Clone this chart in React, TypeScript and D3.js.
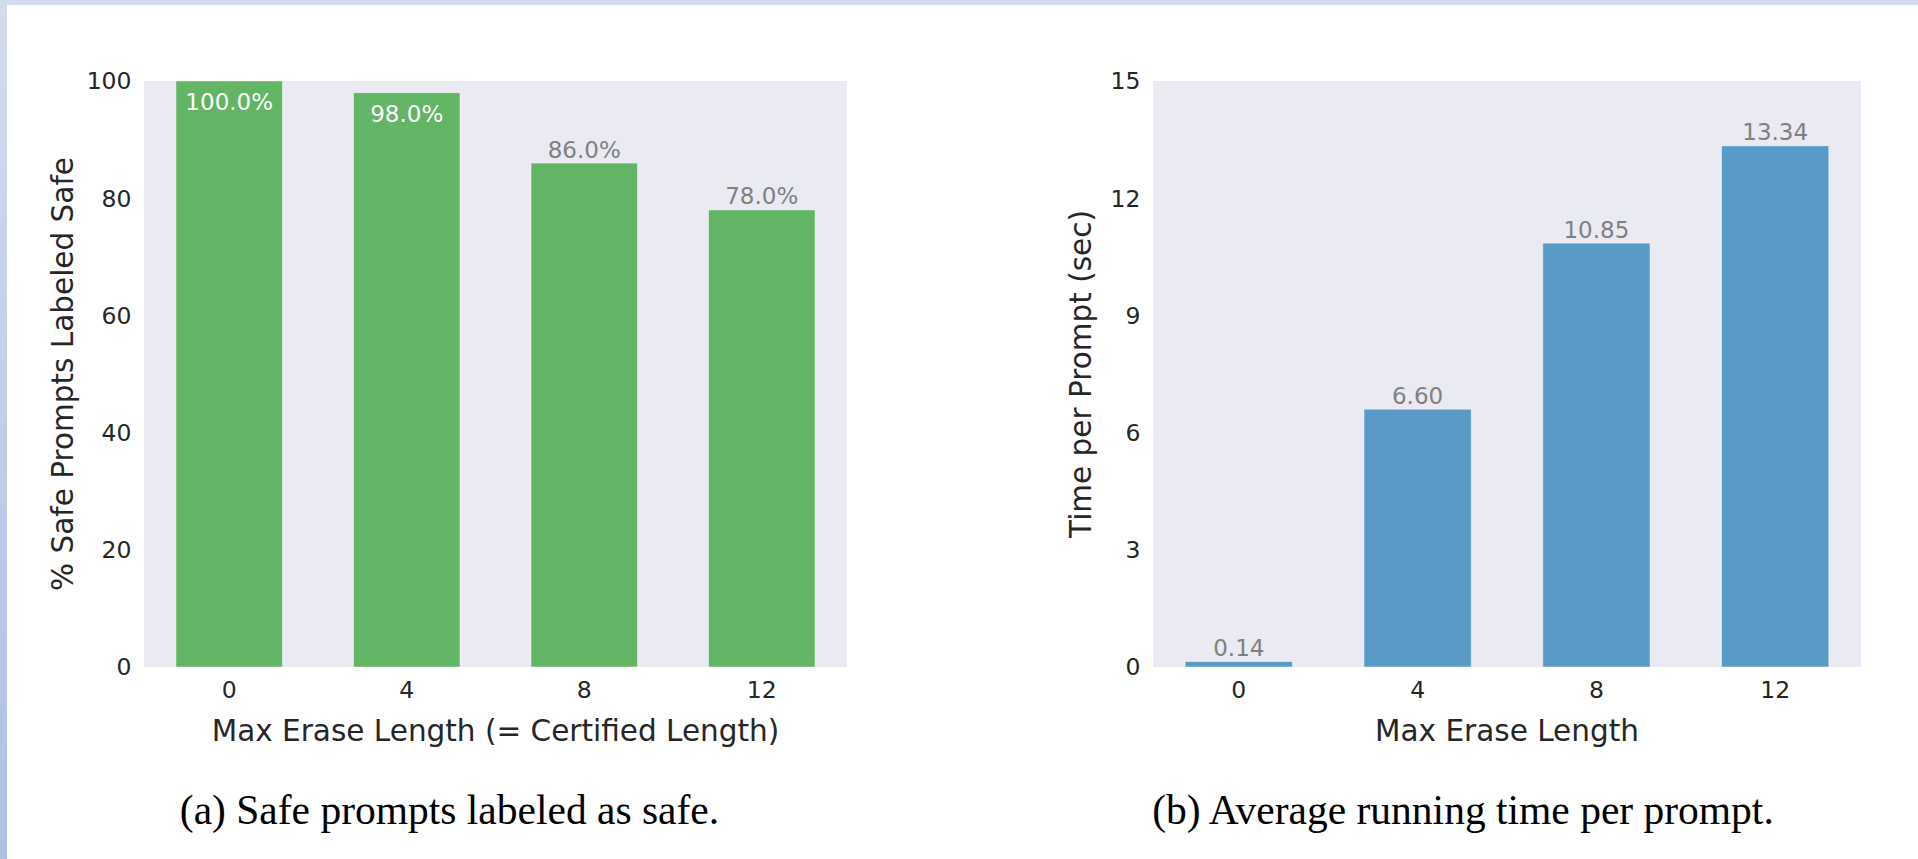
import React from "react";
import * as d3 from "d3";

// Max erase length settings (shared x categories)
const eraseLengths: number[] = [0, 4, 8, 12];

// (a) share of safe prompts labeled safe, in percent
const safeLabeledPct: number[] = [100.0, 98.0, 86.0, 78.0];
const safeTicks: number[] = [0, 20, 40, 60, 80, 100];

// (b) average running time per prompt, in seconds
const timePerPrompt: number[] = [0.14, 6.6, 10.85, 13.34];
const timeTicks: number[] = [0, 3, 6, 9, 12, 15];

const W = 1918;
const H = 859;
const PLOT_TOP = 81;
const PLOT_BOTTOM = 667;
const TICK_FONT = 23.5;
const LABEL_FONT = 29.5;
const SANS = "'DejaVu Sans', sans-serif";
const SERIF = "'Liberation Serif', 'Times New Roman', serif";
const INK = "#262626";

type PanelProps = {
  left: number;
  right: number;
  values: number[];
  yMax: number;
  ticks: number[];
  color: string;
  fmt: (v: number) => string;
  insideAbove: number | null;
  xLabel: string;
  yLabel: string;
  yLabelX: number;
  caption: string;
  captionX: number;
};

function Panel(p: PanelProps) {
  const x = d3.scaleLinear().domain([-0.48, eraseLengths.length - 1 + 0.48]).range([p.left, p.right]);
  const y = d3.scaleLinear().domain([0, p.yMax]).range([PLOT_BOTTOM, PLOT_TOP]);
  const barW = x(0.6) - x(0);
  const midY = (PLOT_TOP + PLOT_BOTTOM) / 2;
  const midX = (p.left + p.right) / 2;

  return (
    <g>
      <rect x={p.left} y={PLOT_TOP} width={p.right - p.left} height={PLOT_BOTTOM - PLOT_TOP} fill="#eaeaf2" />
      {p.values.map((v, i) => {
        const inside = p.insideAbove !== null && v >= p.insideAbove;
        const top = y(v);
        return (
          <g key={i}>
            <rect
              x={x(i) - barW / 2}
              y={top}
              width={barW}
              height={PLOT_BOTTOM - top}
              fill={p.color}
              stroke="#ffffff"
              strokeOpacity={0.6}
              strokeWidth={0.8}
            />
            <text
              x={x(i)}
              y={inside ? top + 29 : top - 5.5}
              textAnchor="middle"
              fontFamily={SANS}
              fontSize={23}
              fill={inside ? "#ffffff" : "#808080"}
            >
              {p.fmt(v)}
            </text>
          </g>
        );
      })}
      {p.ticks.map((t) => (
        <text
          key={"y" + t}
          x={p.left - 12.5}
          y={y(t)}
          dy="0.36em"
          textAnchor="end"
          fontFamily={SANS}
          fontSize={TICK_FONT}
          fill={INK}
        >
          {t}
        </text>
      ))}
      {eraseLengths.map((c, i) => (
        <text
          key={"x" + c}
          x={x(i)}
          y={698}
          textAnchor="middle"
          fontFamily={SANS}
          fontSize={TICK_FONT}
          fill={INK}
        >
          {c}
        </text>
      ))}
      <text x={midX} y={741} textAnchor="middle" fontFamily={SANS} fontSize={LABEL_FONT} fill={INK}>
        {p.xLabel}
      </text>
      <text
        transform={`translate(${p.yLabelX},${midY}) rotate(-90)`}
        textAnchor="middle"
        fontFamily={SANS}
        fontSize={LABEL_FONT}
        fill={INK}
      >
        {p.yLabel}
      </text>
      <text x={p.captionX} y={824} textAnchor="middle" fontFamily={SERIF} fontSize={41.5} fill="#000000">
        {p.caption}
      </text>
    </g>
  );
}

export default function App() {
  return (
    <svg
      width={W}
      height={H}
      viewBox={`0 0 ${W} ${H}`}
      style={{ position: "absolute", left: 0, top: 0, display: "block", background: "#ffffff" }}
    >
      <defs>
        <linearGradient id="frameSide" x1="0" y1="0" x2="0" y2="1">
          <stop offset="0" stopColor="#d3dcee" />
          <stop offset="1" stopColor="#aebfe6" />
        </linearGradient>
      </defs>
      <rect x={0} y={0} width={W} height={H} fill="#ffffff" />
      <rect x={0} y={0} width={W} height={5} fill="#d2dcee" />
      <rect x={0} y={0} width={7} height={H} fill="url(#frameSide)" />

      <Panel
        left={144}
        right={847}
        values={safeLabeledPct}
        yMax={100}
        ticks={safeTicks}
        color="#63b566"
        fmt={(v) => `${v.toFixed(1)}%`}
        insideAbove={90}
        xLabel="Max Erase Length (= Certified Length)"
        yLabel="% Safe Prompts Labeled Safe"
        yLabelX={73}
        caption="(a) Safe prompts labeled as safe."
        captionX={449.5}
      />
      <Panel
        left={1153}
        right={1861}
        values={timePerPrompt}
        yMax={15}
        ticks={timeTicks}
        color="#5a9ac6"
        fmt={(v) => v.toFixed(2)}
        insideAbove={null}
        xLabel="Max Erase Length"
        yLabel="Time per Prompt (sec)"
        yLabelX={1091}
        caption="(b) Average running time per prompt."
        captionX={1463}
      />
    </svg>
  );
}
